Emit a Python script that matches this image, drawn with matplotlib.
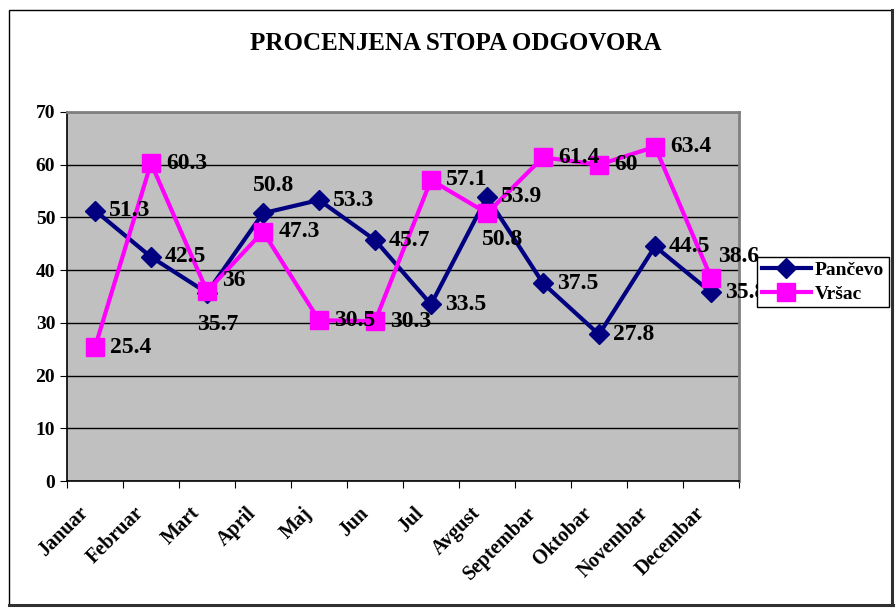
import matplotlib
matplotlib.use('Agg')
import matplotlib.pyplot as plt
import matplotlib.patches as patches
import matplotlib.lines as mlines
import matplotlib.transforms as mtransforms

plt.rcParams['font.family'] = ['Liberation Serif', 'DejaVu Serif']

months = ['Januar', 'Februar', 'Mart', 'April', 'Maj', 'Jun', 'Jul',
          'Avgust', 'Septembar', 'Oktobar', 'Novembar', 'Decembar']
pancevo = [51.3, 42.5, 35.7, 50.8, 53.3, 45.7, 33.5, 53.9, 37.5, 27.8, 44.5, 35.8]
vrsac = [25.4, 60.3, 36, 47.3, 30.5, 30.3, 57.1, 50.8, 61.4, 60, 63.4, 38.6]
pancevo_labels = ['51.3', '42.5', '35.7', '50.8', '53.3', '45.7', '33.5',
                  '53.9', '37.5', '27.8', '44.5', '35.8']
vrsac_labels = ['25.4', '60.3', '36', '47.3', '30.5', '30.3', '57.1',
                '50.8', '61.4', '60', '63.4', '38.6']

# label offsets in points (dx, dy); default is right of the marker
pan_off = {2: (-7, -23), 3: (-7, 20)}
vrs_off = {2: (11, 8), 7: (-4, -19), 11: (5, 15)}

fig = plt.figure(figsize=(8.96, 6.14), dpi=100)
ax = fig.add_axes([0.0748, 0.2166, 0.750, 0.601])
ax.set_facecolor('#C0C0C0')

x = list(range(len(months)))
ax.plot(x, pancevo, color='#000080', lw=3, marker='D', ms=10, label='Pančevo', zorder=3)
ax.plot(x, vrsac, color='#FF00FF', lw=3, marker='s', ms=12.5, label='Vršac', zorder=4)

for i, v in enumerate(pancevo):
    dx, dy = pan_off.get(i, (10, 0))
    ax.annotate(pancevo_labels[i], (i, v), xytext=(dx, dy), textcoords='offset points',
                ha='left', va='center', fontsize=17, fontweight='bold', zorder=5,
                annotation_clip=False)
for i, v in enumerate(vrsac):
    dx, dy = vrs_off.get(i, (11, 0))
    ax.annotate(vrsac_labels[i], (i, v), xytext=(dx, dy), textcoords='offset points',
                ha='left', va='center', fontsize=17, fontweight='bold', zorder=5,
                annotation_clip=False)

ax.set_xlim(-0.5, 11.5)
ax.set_ylim(0, 70)
ax.set_yticks(range(0, 71, 10))
ax.yaxis.grid(True, color='black', lw=1)
ax.set_axisbelow(True)
ax.set_xticks([i - 0.5 for i in range(13)], minor=False)
ax.set_xticklabels([])
ax.set_xticks(x, minor=True)
ax.set_xticklabels(months, minor=True, rotation=45, ha='right', rotation_mode='anchor',
                   fontsize=14.5, fontweight='bold')
ax.tick_params(axis='x', which='minor', length=0, pad=16)
ax.tick_params(axis='x', which='major', direction='out', length=5)
ax.tick_params(axis='y', direction='out', length=5, labelsize=14)
for t in ax.get_yticklabels():
    t.set_fontweight('bold')
shift = mtransforms.ScaledTranslation(-17 / 100, 0, fig.dpi_scale_trans)
for t in ax.get_xticklabels(minor=True):
    t.set_transform(t.get_transform() + shift)

for s in ['top', 'right']:
    ax.spines[s].set_color('#808080')
    ax.spines[s].set_linewidth(2)
for s in ['left', 'bottom']:
    ax.spines[s].set_color('black')
    ax.spines[s].set_linewidth(1.2)

fig.text(0.509, 0.929, 'PROCENJENA STOPA ODGOVORA', ha='center', va='center',
         fontsize=18, fontweight='bold')

leg = fig.legend(loc='upper left', bbox_to_anchor=(0.845, 0.582),
                 prop={'weight': 'bold', 'size': 14}, frameon=True, fancybox=False,
                 edgecolor='black', handlelength=2.5, borderpad=0.25, labelspacing=0.3,
                 handletextpad=0.2, borderaxespad=0, framealpha=1)
leg.get_frame().set_linewidth(1)

# outer chart frame with shadow on right and bottom
fig.patches.append(patches.Rectangle((0.010, 0.014), 0.986, 0.969, transform=fig.transFigure,
                                     fill=False, edgecolor='black', lw=1))
fig.lines.append(mlines.Line2D([0.010, 0.997], [0.014, 0.014], transform=fig.transFigure,
                               color='#303030', lw=2.2))
fig.lines.append(mlines.Line2D([0.996, 0.996], [0.014, 0.983], transform=fig.transFigure,
                               color='#303030', lw=2.2))

fig.savefig('out.png', dpi=100)
